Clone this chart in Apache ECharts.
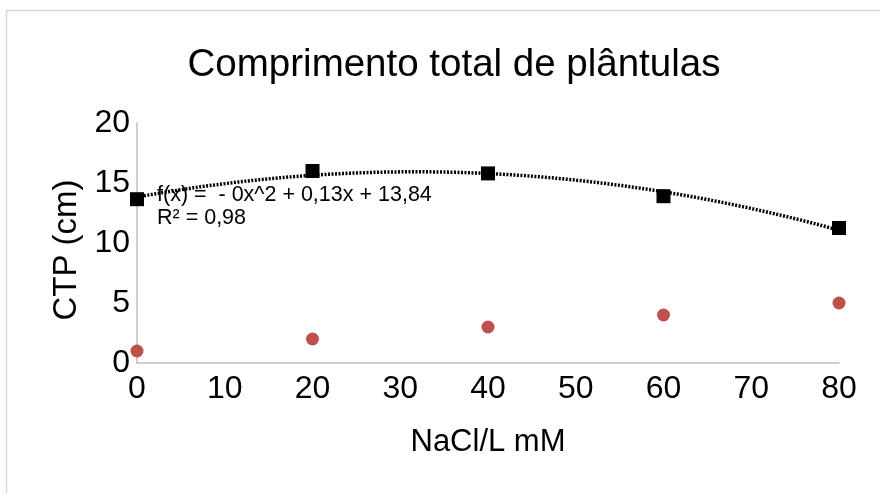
<!DOCTYPE html>
<html>
<head>
<meta charset="utf-8">
<script src="https://cdn.jsdelivr.net/npm/echarts@6/dist/echarts.min.js"></script>
<style>
html,body{margin:0;padding:0;background:#fff;}
#chart{width:880px;height:493px;}
</style>
</head>
<body>
<div id="chart"></div>
<script>
// ---- data ----
var titleText = 'Comprimento total de plântulas';
var xAxisName = 'NaCl/L mM';
var yAxisName = 'CTP (cm)';
var nacl = [0, 20, 40, 60, 80];
var ctpValues = [13.65, 16.0, 15.8, 13.9, 11.25];
var secondValues = [1, 2, 3, 4, 5];
var equationLines = ['f(x) =  - 0x^2 + 0,13x + 13,84', 'R\u00b2 = 0,98'];
var xTicks = [0, 10, 20, 30, 40, 50, 60, 70, 80];
var yTicks = [0, 5, 10, 15, 20];

// quadratic least-squares trendline (as the spreadsheet's trendline)
function polyFit2(xs, ys) {
  var n = xs.length, S = [0,0,0,0,0], T = [0,0,0];
  for (var i = 0; i < n; i++) {
    var p = 1;
    for (var k = 0; k < 5; k++) { S[k] += p; if (k < 3) T[k] += p * ys[i]; p *= xs[i]; }
  }
  var A = [[S[0],S[1],S[2],T[0]],[S[1],S[2],S[3],T[1]],[S[2],S[3],S[4],T[2]]];
  for (var c = 0; c < 3; c++) {
    for (var r = c + 1; r < 3; r++) {
      var f = A[r][c] / A[c][c];
      for (var j = c; j < 4; j++) A[r][j] -= f * A[c][j];
    }
  }
  var x = [0,0,0];
  for (var r2 = 2; r2 >= 0; r2--) {
    var s = A[r2][3];
    for (var j2 = r2 + 1; j2 < 3; j2++) s -= A[r2][j2] * x[j2];
    x[r2] = s / A[r2][r2];
  }
  return x; // c0, c1, c2
}
var coef = polyFit2(nacl, ctpValues);
var trend = [];
for (var xv = nacl[0]; xv <= nacl[nacl.length - 1]; xv += 0.5) {
  trend.push([xv, coef[0] + coef[1] * xv + coef[2] * xv * xv]);
}

var font = 'Liberation Sans, Arial, sans-serif';
var chart = echarts.init(document.getElementById('chart'), null, {renderer: 'canvas'});
chart.setOption({
  animation: false,
  backgroundColor: '#ffffff',
  title: {
    text: titleText,
    left: 449,
    textAlign: 'center',
    top: 41,
    textStyle: {fontFamily: font, fontSize: 38.5, fontWeight: 'normal', color: '#000'}
  },
  grid: {left: 137, right: 41, top: 123, bottom: 130, containLabel: false},
  xAxis: {
    type: 'value', min: 0, max: 80, interval: 10,
    name: xAxisName, nameLocation: 'middle', nameGap: 64,
    nameTextStyle: {fontFamily: font, fontSize: 31, color: '#000'},
    axisLine: {show: true, onZero: false, lineStyle: {color: '#bfbfbf', width: 1.5}},
    axisTick: {show: false},
    splitLine: {show: false},
    axisLabel: {fontFamily: font, fontSize: 32, color: '#000', margin: 10,
      formatter: function (v) { return xTicks.indexOf(v) >= 0 ? String(v) : ''; }}
  },
  yAxis: {
    type: 'value', min: 0, max: 20, interval: 5,
    name: yAxisName, nameLocation: 'middle', nameGap: 53, nameRotate: 90,
    nameTextStyle: {fontFamily: font, fontSize: 33, color: '#000', padding: [0, 14, 0, 0]},
    axisLine: {show: true, lineStyle: {color: '#bfbfbf', width: 1.5}},
    axisTick: {show: false},
    splitLine: {show: false},
    axisLabel: {fontFamily: font, fontSize: 32, color: '#000', margin: 7,
      formatter: function (v) { return yTicks.indexOf(v) >= 0 ? String(v) : ''; }}
  },
  graphic: [
    {type: 'rect', silent: true, z: -1,
     shape: {x: 6.5, y: 10.5, width: 1000, height: 1000},
     style: {fill: 'none', stroke: '#d9d9d9', lineWidth: 1.5}},
    {type: 'text', left: 157, top: 183, z: 50,
     style: {text: equationLines.join('\n'), font: '21.5px ' + font, fill: '#000', lineHeight: 23.5}}
  ],
  series: [
    {
      type: 'line', data: trend, showSymbol: false, smooth: false, z: 2,
      lineStyle: {color: '#000', width: 3.5, type: [2, 1.5]}
    },
    {
      type: 'scatter', data: nacl.map(function (x, i) { return [x, ctpValues[i]]; }),
      symbol: 'rect', symbolSize: 14, itemStyle: {color: '#000', opacity: 1}, z: 5
    },
    {
      type: 'scatter', data: nacl.map(function (x, i) { return [x, secondValues[i]]; }),
      symbol: 'circle', symbolSize: 13, itemStyle: {color: '#c0504d', opacity: 1}, z: 5
    }
  ]
});
</script>
</body>
</html>
